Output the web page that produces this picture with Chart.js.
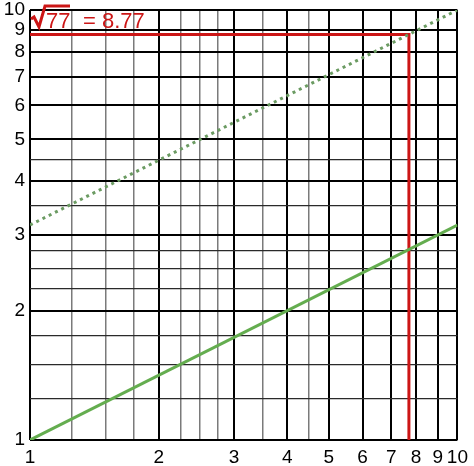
<!DOCTYPE html>
<html>
<head>
<meta charset="utf-8">
<script src="https://cdn.jsdelivr.net/npm/chart.js@4/dist/chart.umd.min.js"></script>
<style>
  html, body { margin: 0; padding: 0; background: #fff; }
  #wrap { width: 474px; height: 466px; }
</style>
</head>
<body>
<div id="wrap"><canvas id="chart" width="474" height="466"></canvas></div>
<script>
// tick values on both log axes
const majorTicks = [1, 2, 3, 4, 5, 6, 7, 8, 9, 10];
const minorTicks = [1.25, 1.5, 1.75, 2.25, 2.5, 2.75, 3.5, 4.5];

// y = sqrt(x) and y = sqrt(10x), straight lines on log-log paper
const xEnds = [1, 10];
const sqrtX = [1, 3.162];
const sqrtTenX = [3.162, 10];

// reading for sqrt(77): x = 7.7 on the upper line
const readX = [1, 7.7, 7.7];
const readY = [8.77, 8.77, 1];
const readLabel = '77';
const readResult = '= 8.77';

const allTicks = majorTicks.concat(minorTicks).sort((a, b) => a - b);
const isMajor = v => majorTicks.includes(v);

const toPoints = (xs, ys) => xs.map((x, i) => ({ x: x, y: ys[i] }));

const sqrtLabel = {
    id: 'sqrtLabel',
    afterDraw(chart) {
        const ctx = chart.ctx;
        const left = chart.chartArea.left;
        ctx.save();
        ctx.fillStyle = '#cc1616';
        ctx.strokeStyle = '#cc1616';
        ctx.font = '22px "Liberation Sans", Arial, sans-serif';
        ctx.textBaseline = 'alphabetic';
        // radical sign
        ctx.lineWidth = 3;
        ctx.beginPath();
        ctx.moveTo(left + 1, 19);
        ctx.lineTo(left + 4, 17);
        ctx.lineTo(left + 9, 27);
        ctx.lineTo(left + 15, 6);
        ctx.lineTo(left + 40, 6);
        ctx.stroke();
        ctx.fillText(readLabel, left + 16, 28);
        ctx.fillText(readResult, left + 53, 28);
        ctx.restore();
    }
};

const ctx = document.getElementById('chart').getContext('2d');
new Chart(ctx, {
    type: 'line',
    data: {
        datasets: [{
            data: toPoints(xEnds, sqrtX),
            borderColor: '#64ad4f',
            borderWidth: 3,
            pointRadius: 0
        }, {
            data: toPoints(xEnds, sqrtTenX),
            borderColor: '#6b9b62',
            borderWidth: 3,
            borderDash: [3, 4],
            pointRadius: 0
        }, {
            data: toPoints(readX, readY),
            borderColor: '#cc1616',
            borderWidth: 3,
            pointRadius: 0,
            tension: 0
        }]
    },
    options: {
        responsive: false,
        animation: false,
        plugins: {
            legend: { display: false },
            tooltip: { enabled: false }
        },
        layout: {
            padding: { top: 0, right: 13, left: 0, bottom: 0 }
        },
        scales: {
            x: {
                type: 'logarithmic',
                min: 1,
                max: 10,
                afterBuildTicks: scale => { scale.ticks = allTicks.map(v => ({ value: v })); },
                afterFit: scale => { scale.height = 26; },
                border: { display: false },
                grid: {
                    drawTicks: false,
                    color: c => isMajor(c.tick.value) ? '#000' : '#7a7a7a',
                    lineWidth: c => isMajor(c.tick.value) ? 2 : 1.5
                },
                ticks: {
                    autoSkip: false,
                    maxRotation: 0,
                    padding: 6,
                    color: '#000',
                    font: { family: '"Liberation Sans", Arial, sans-serif', size: 19 },
                    callback: v => isMajor(v) ? String(v) : ''
                }
            },
            y: {
                type: 'logarithmic',
                min: 1,
                max: 10,
                afterBuildTicks: scale => { scale.ticks = allTicks.map(v => ({ value: v })); },
                afterFit: scale => {
                    scale.width = 30;
                    scale.paddingTop = 10;
                    scale.paddingBottom = 0;
                },
                border: { display: false },
                grid: {
                    drawTicks: false,
                    color: c => isMajor(c.tick.value) ? '#000' : '#2a2a2a',
                    lineWidth: c => isMajor(c.tick.value) ? 2 : 1.2
                },
                ticks: {
                    autoSkip: false,
                    padding: 5,
                    color: '#000',
                    font: { family: '"Liberation Sans", Arial, sans-serif', size: 19 },
                    callback: v => isMajor(v) ? String(v) : ''
                }
            }
        }
    },
    plugins: [sqrtLabel]
});
</script>
</body>
</html>
